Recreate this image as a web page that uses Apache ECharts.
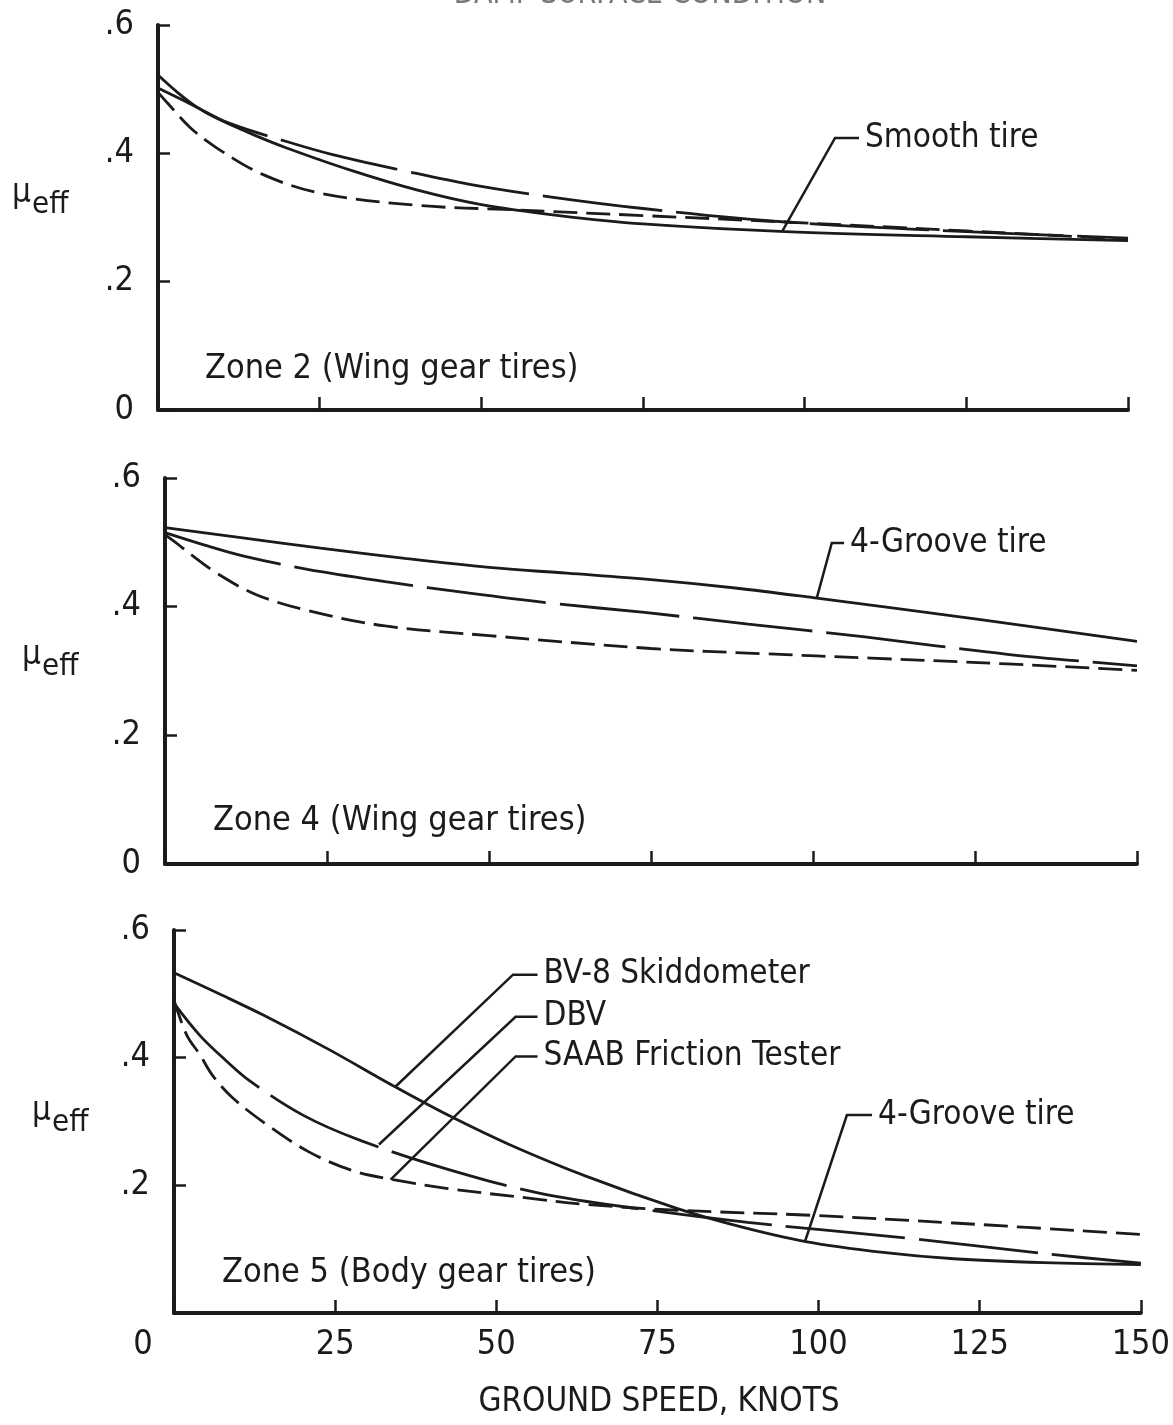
<!DOCTYPE html>
<html>
<head>
<meta charset="utf-8">
<script src="https://cdn.jsdelivr.net/npm/echarts@6/dist/echarts.min.js"></script>
<style>
  html, body { margin: 0; padding: 0; background: #fff; }
  #main { width: 1173px; height: 1425px; }
</style>
</head>
<body>
<div id="main"></div>
<script>
// ground speed (knots) vs effective friction
var speedTicks = [0, 25, 50, 75, 100, 125, 150];

// Zone 2 (wing gear, smooth tire)
var zone2Bv8 = [[0,0.522],[3,0.495],[6,0.472],[9,0.455],[15,0.428],[20,0.408],[30,0.373],[40,0.343],[50,0.320],[62,0.303],[75,0.290],[97,0.278],[125,0.270],[150,0.264]];
var zone2Dbv = [[0,0.502],[6,0.472],[11,0.447],[20,0.418],[27,0.398],[38,0.373],[48,0.352],[60,0.333],[75,0.314],[97,0.293],[125,0.278],[150,0.268]];
var zone2Saab = [[0,0.495],[1.5,0.478],[5,0.440],[9,0.409],[16,0.368],[25,0.338],[40,0.319],[55,0.312],[75,0.303],[97,0.293],[125,0.279],[150,0.266]];

// Zone 4 (wing gear, 4-groove tire)
var zone4Bv8 = [[0,0.523],[12,0.507],[24,0.491],[37,0.475],[50,0.461],[62,0.452],[75,0.442],[88,0.429],[100,0.414],[125,0.381],[150,0.346]];
var zone4Dbv = [[0,0.515],[6,0.496],[12,0.479],[22,0.458],[34,0.439],[47,0.421],[60,0.405],[74,0.391],[90,0.373],[108,0.353],[130,0.326],[150,0.308]];
var zone4Saab = [[0,0.512],[2,0.497],[4,0.481],[8,0.452],[14,0.419],[22,0.394],[34,0.370],[50,0.355],[75,0.335],[92,0.327],[109,0.320],[130,0.311],[150,0.301]];

// Zone 5 (body gear, 4-groove tire)
var zone5Bv8 = [[0,0.533],[7,0.500],[14,0.466],[24,0.413],[34,0.356],[42.5,0.310],[52,0.264],[64,0.214],[78,0.164],[88,0.135],[98,0.112],[110,0.095],[121,0.085],[135,0.079],[150,0.076]];
var zone5Dbv = [[0,0.485],[4,0.435],[8,0.396],[11.7,0.364],[20,0.310],[29,0.270],[42.5,0.225],[57,0.187],[73,0.162],[89,0.142],[114,0.117],[135,0.093],[150,0.078]];
var zone5Saab = [[0,0.490],[2,0.435],[4,0.405],[6,0.372],[9,0.338],[14,0.298],[21,0.252],[28,0.222],[34,0.209],[42.5,0.195],[55,0.180],[64,0.170],[78,0.161],[99,0.153],[121,0.141],[150,0.123]];

var zoneNames = ['Zone 2 (Wing gear tires)', 'Zone 4 (Wing gear tires)', 'Zone 5 (Body gear tires)'];

// callouts: tip on the curve, elbow, end of the short horizontal stroke (data units)
var zone2Notes = [{ text: 'Smooth tire', tip: [96.5, 0.278], elbow: [104.7, 0.424], end: [108.4, 0.424] }];
var zone4Notes = [{ text: '4-Groove tire', tip: [100.6, 0.414], elbow: [102.9, 0.499], end: [104.8, 0.499] }];
var zone5Notes = [
  { text: 'BV-8 Skiddometer', tip: [34.3, 0.354], elbow: [52.6, 0.530], end: [56.4, 0.530] },
  { text: 'DBV', tip: [31.8, 0.264], elbow: [53.0, 0.464], end: [56.4, 0.464] },
  { text: 'SAAB Friction Tester', tip: [33.6, 0.209], elbow: [53.0, 0.402], end: [56.4, 0.402] },
  { text: '4-Groove tire', tip: [97.9, 0.112], elbow: [104.4, 0.310], end: [108.3, 0.310] }
];

var INK = '#1b1b1b';
var TXT = '"DejaVu Sans Condensed", "DejaVu Sans", sans-serif';
var NUM = '"Liberation Sans Narrow", "DejaVu Sans Condensed", sans-serif';

var panels = [
  { bv8: zone2Bv8, dbv: zone2Dbv, saab: zone2Saab, notes: zone2Notes },
  { bv8: zone4Bv8, dbv: zone4Dbv, saab: zone4Saab, notes: zone4Notes },
  { bv8: zone5Bv8, dbv: zone5Dbv, saab: zone5Saab, notes: zone5Notes }
];
var grids = [
  { left: 158, top: 25, width: 970, height: 385 },
  { left: 165, top: 478, width: 972, height: 386 },
  { left: 174, top: 930, width: 973, height: 383 }
];

var xAxes = [], yAxes = [], series = [];
panels.forEach(function (p, i) {
  var last = i === 2;
  xAxes.push({
    type: 'value', gridIndex: i, min: 0, max: 150, interval: 25,
    axisLine: { lineStyle: { color: INK, width: 4 } },
    axisTick: { inside: true, length: 13, lineStyle: { color: INK, width: 2.5 } },
    splitLine: { show: false },
    axisLabel: {
      show: last, margin: 15, color: INK, fontSize: 34, fontFamily: NUM,
      formatter: function (v) { return v === 0 ? '{z|0}' : String(v); },
      rich: { z: { fontSize: 34, fontFamily: NUM, color: INK, padding: [0, 62, 0, 0] } }
    }
  });
  yAxes.push({
    type: 'value', gridIndex: i, min: 0, max: 0.6, interval: 0.2,
    axisLine: { show: true, lineStyle: { color: INK, width: 4 } },
    axisTick: { show: true, inside: true, length: 12, lineStyle: { color: INK, width: 2.5 } },
    splitLine: { show: false },
    axisLabel: {
      margin: 24, color: INK, fontSize: 34, fontFamily: NUM,
      formatter: function (v) {
        if (v === 0) return last ? '' : '0';
        return '.' + Math.round(v * 10);
      }
    }
  });
  var common = { type: 'line', xAxisIndex: i, yAxisIndex: i, smooth: 0.35, showSymbol: false, silent: true };
  series.push(Object.assign({}, common, { name: 'BV-8 Skiddometer', data: p.bv8, lineStyle: { color: INK, width: 2.8, type: 'solid' } }));
  series.push(Object.assign({}, common, { name: 'DBV', data: p.dbv, lineStyle: { color: INK, width: 2.8, type: [120, 14] } }));
  series.push(Object.assign({}, common, { name: 'SAAB Friction Tester', data: p.saab, lineStyle: { color: INK, width: 2.8, type: [24, 9] } }));
  series.push({
    type: 'custom', xAxisIndex: i, yAxisIndex: i, clip: false, silent: true,
    data: p.notes.map(function (n) { return n.tip; }),
    renderItem: function (params, api) {
      var n = p.notes[params.dataIndex];
      var a = api.coord(n.tip), b = api.coord(n.elbow), c = api.coord(n.end);
      return {
        type: 'group',
        children: [
          { type: 'polyline', shape: { points: [a, b, c] }, style: { stroke: INK, lineWidth: 2.5, fill: 'none' } },
          { type: 'text', style: { x: c[0] + 6, y: c[1], text: n.text, font: '33px ' + TXT, fill: INK, align: 'left', verticalAlign: 'middle' } }
        ]
      };
    }
  });
});

// fixed text: axis names, zone captions, clipped heading
var graphics = [
  { type: 'text', x: 640, y: -20, style: { text: 'DAMP SURFACE CONDITION', font: '30px ' + TXT, fill: '#777', align: 'center', verticalAlign: 'top' } },
  { type: 'text', x: 659, y: 1386, style: { text: 'GROUND SPEED, KNOTS', font: '33px ' + TXT, fill: INK, align: 'center', verticalAlign: 'top' } }
];
var muTops = [177, 639, 1095];
var zonePos = [[205, 352], [213, 804], [222, 1256]];
muTops.forEach(function (t, i) {
  graphics.push({ type: 'text', x: 12 + i * 10, y: t, style: { text: 'μ', font: '33px ' + TXT, fill: INK, verticalAlign: 'top' } });
  graphics.push({ type: 'text', x: 32 + i * 10, y: t + 12, style: { text: 'eff', font: '31px ' + TXT, fill: INK, verticalAlign: 'top' } });
  graphics.push({ type: 'text', x: zonePos[i][0], y: zonePos[i][1], style: { text: zoneNames[i], font: '34px ' + TXT, fill: INK, verticalAlign: 'top' } });
});

var chart = echarts.init(document.getElementById('main'));
chart.setOption({
  animation: false,
  backgroundColor: '#fff',
  grid: grids,
  xAxis: xAxes,
  yAxis: yAxes,
  series: series,
  graphic: graphics
});
</script>
</body>
</html>
